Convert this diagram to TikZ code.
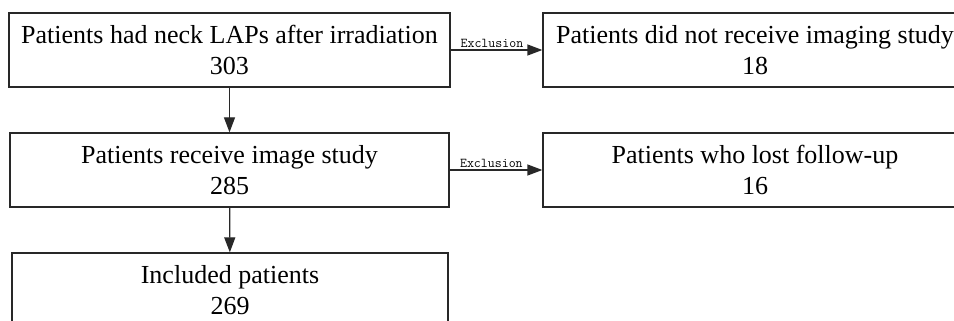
\documentclass[tikz,border=0pt]{standalone}
\usepackage{fontspec}
\setmainfont{Liberation Serif}
\usepackage{tikz}
\usetikzlibrary{arrows.meta, positioning}
\definecolor{cLine}{RGB}{40,40,40}

\begin{document}
\begin{tikzpicture}[x=1pt, y=-1pt, font=\fontsize{26}{31}\selectfont,
		box/.style={draw=cLine, line width=1.3pt, minimum height=74pt, inner sep=0pt, align=center},
		arr/.style={draw=cLine, line width=1.3pt, -{Triangle[length=15pt, width=11pt]}},
		excl/.style={above, inner sep=1.5pt, pos=0.45, font=\ttfamily\fontsize{13.5}{14}\selectfont}]
	\clip (0,0) rectangle (954,321);
	\fill[white] (0,0) rectangle (954,321);
	\node[box, minimum width=441pt] (lap) at (229.5,50) {Patients had neck LAPs after irradiation\\303};
	\node[box, minimum width=424pt] (noimg) at (755,50) {Patients did not receive imaging study\\18};
	\node[box, minimum width=439pt] (img) at (229.5,170) {Patients receive image study\\285};
	\node[box, minimum width=424pt] (lost) at (755,170) {Patients who lost follow-up\\16};
	\node[box, minimum width=436pt] (incl) at (230,290) {Included patients\\269};
	\draw[arr] (lap) -- (img);
	\draw[arr] (img) -- (incl);
	\draw[arr] (lap.east) -- node[excl] {Exclusion} (noimg.west);
	\draw[arr] (img.east) -- node[excl] {Exclusion} (lost.west);
\end{tikzpicture}
\end{document}
